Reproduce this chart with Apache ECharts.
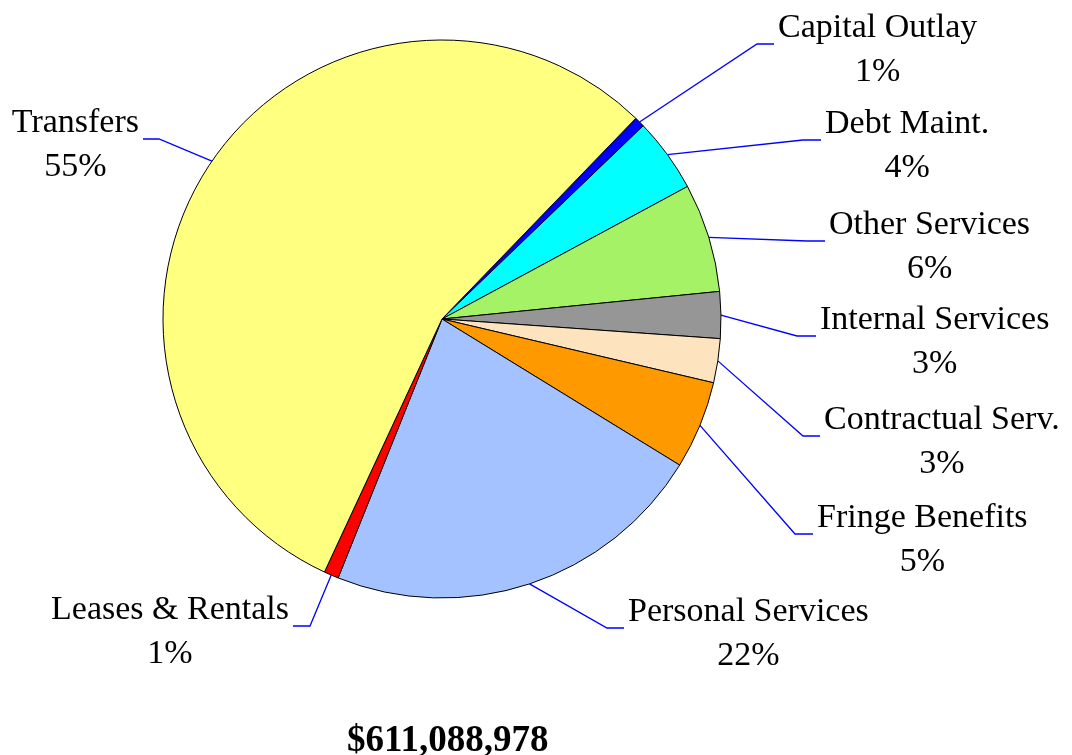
<!DOCTYPE html>
<html>
<head>
<meta charset="utf-8">
<script src="https://cdn.jsdelivr.net/npm/echarts@6/dist/echarts.min.js"></script>
<style>
  html, body { margin: 0; padding: 0; background: #fff; }
  #chart { width: 1072px; height: 755px; }
</style>
</head>
<body>
<div id="chart"></div>
<script>
// categories, clockwise from the top right
const categories = [
  'Capital Outlay', 'Debt Maint.', 'Other Services', 'Internal Services',
  'Contractual Serv.', 'Fringe Benefits', 'Personal Services',
  'Leases & Rentals', 'Transfers'
];
// share of total (%)
const shares = [0.6, 4.3, 6.3, 2.7, 2.55, 5.1, 22.3, 0.85, 55.3];
const totalLabel = '$611,088,978';

const colors = [
  '#0000FF', '#00FFFF', '#A6F266', '#969696',
  '#FDE4BE', '#FF9900', '#A3C2FF', '#FF0000', '#FFFF80'
];

// leader line elbow + end x, side of the label (1 right, -1 left)
const labelAnchors = [
  [757, 44, 774, 1],
  [803, 140, 821, 1],
  [807, 241, 825, 1],
  [797, 336, 816, 1],
  [803, 436, 820, 1],
  [795, 534, 813, 1],
  [607, 628, 624, 1],
  [310, 626, 293, -1],
  [159, 139, 143, -1]
];

const chart = echarts.init(document.getElementById('chart'), null, { renderer: 'canvas' });

const option = {
  animation: false,
  backgroundColor: '#ffffff',
  title: {
    text: totalLabel,
    left: 342,
    top: 718,
    textStyle: {
      fontFamily: '"Liberation Serif", "Times New Roman", serif',
      fontWeight: 'bold',
      fontSize: 37,
      lineHeight: 37,
      color: '#000'
    }
  },
  series: [
    {
      type: 'pie',
      center: [442, 319],
      radius: 279,
      startAngle: 46,
      clockwise: true,
      avoidLabelOverlap: false,
      emphasis: { disabled: true },
      data: categories.map((name, i) => ({
        name: name,
        value: shares[i],
        itemStyle: { color: colors[i] }
      })),
      itemStyle: {
        borderColor: '#000',
        borderWidth: 1
      },
      label: {
        show: true,
        position: 'outside',
        fontFamily: '"Liberation Serif", "Times New Roman", serif',
        fontSize: 34,
        lineHeight: 44,
        color: '#000',
        formatter: (p) => p.name + '\n' + Math.round(p.percent) + '%'
      },
      labelLine: {
        show: true,
        length: 20,
        length2: 20,
        lineStyle: { color: '#0000FF', width: 1.3 }
      },
      labelLayout: (params) => {
        const a = labelAnchors[params.dataIndex];
        const start = params.labelLinePoints ? params.labelLinePoints[0] : [a[0], a[1]];
        const w = params.labelRect.width;
        return {
          x: a[2] + a[3] * (4 + w / 2),
          y: a[1] + 6,
          align: 'center',
          verticalAlign: 'middle',
          labelLinePoints: [start, [a[0], a[1]], [a[2], a[1]]]
        };
      }
    }
  ]
};

chart.setOption(option);
</script>
</body>
</html>
